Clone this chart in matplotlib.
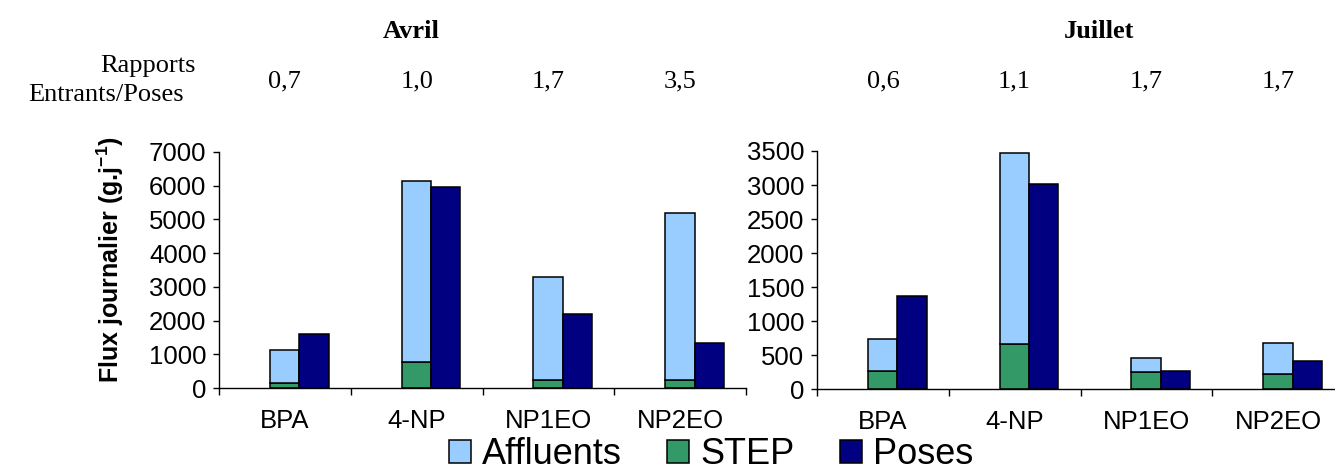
import matplotlib
matplotlib.use("Agg")
import matplotlib.pyplot as plt
from matplotlib.patches import Patch
import numpy as np

# ---- data -------------------------------------------------------------
categories = ["BPA", "4-NP", "NP1EO", "NP2EO"]

# Avril (g/j) : STEP, Affluents (stacked above STEP), Poses
avril_step = [150, 760, 230, 230]
avril_affluents = [970, 5370, 3070, 4950]
avril_poses = [1600, 5970, 2200, 1340]
avril_ratios = ["0,7", "1,0", "1,7", "3,5"]

# Juillet (g/j)
juillet_step = [265, 660, 260, 225]
juillet_affluents = [470, 2810, 205, 450]
juillet_poses = [1375, 3020, 270, 415]
juillet_ratios = ["0,6", "1,1", "1,7", "1,7"]

months = ["Avril", "Juillet"]
ylims = [7000, 3500]
ysteps = [1000, 500]

# ---- style ------------------------------------------------------------
c_affl = "#99CCFF"
c_step = "#339966"
c_poses = "#000080"
sans = "Liberation Sans"
serif = "Liberation Serif"

plt.rcParams["mathtext.fontset"] = "custom"
plt.rcParams["mathtext.rm"] = "Liberation Sans"
plt.rcParams["mathtext.bf"] = "Liberation Sans:bold"

W, H = 1335, 470
fig = plt.figure(figsize=(W / 100, H / 100), dpi=100)


def fx(px):
    return px / W


def fy(py):
    return 1 - py / H


# axes rectangles in pixel space (left, right, y of zero, y of top)
boxes = [(219, 746, 388, 152), (817, 1344, 389.3, 151)]
datasets = [
    (avril_step, avril_affluents, avril_poses, avril_ratios),
    (juillet_step, juillet_affluents, juillet_poses, juillet_ratios),
]

bar_w = 0.2235
off_a = 0.386
off_p = off_a + bar_w
edge_kw = dict(edgecolor="black", linewidth=1.1)

for (l, r, y0, y1), (step, affl, poses, ratios), ymax, ystep in zip(
    boxes, datasets, ylims, ysteps
):
    ax = fig.add_axes([fx(l), fy(y0), fx(r) - fx(l), fy(y1) - fy(y0)])
    x = np.arange(len(categories))
    ax.bar(x + off_a, step, width=bar_w, align="edge", color=c_step, **edge_kw)
    ax.bar(x + off_a, affl, width=bar_w, bottom=step, align="edge",
           color=c_affl, **edge_kw)
    ax.bar(x + off_p, poses, width=bar_w, align="edge", color=c_poses, **edge_kw)

    ax.set_xlim(0, len(categories))
    ax.set_ylim(0, ymax)
    yt = np.arange(0, ymax + 1, ystep)
    ax.set_yticks(yt)
    ax.set_yticklabels([str(v) for v in yt], fontsize=18.5, family=sans)
    ax.set_xticks(np.arange(len(categories) + 1))
    ax.set_xticklabels([])
    ax.set_xticks(x + 0.5, minor=True)
    ax.set_xticklabels(categories, minor=True, fontsize=18.5, family=sans)
    ax.tick_params(axis="x", which="major", direction="out", length=5,
                   width=1, color="black")
    ax.tick_params(axis="x", which="minor", length=0, pad=15)
    ax.tick_params(axis="y", direction="out", length=4, width=1, pad=5)
    for s in ("top", "right"):
        ax.spines[s].set_visible(False)
    for s in ("left", "bottom"):
        ax.spines[s].set_linewidth(1.0)
        ax.spines[s].set_color("black")

    # ratio row above each category
    for xi, t in zip(x, ratios):
        xpix = ax.transData.transform((xi + 0.5, 0))[0]
        fig.text(xpix / W, fy(87), t, ha="center", va="baseline",
                 fontsize=19, family=serif)

# month titles
fig.text(fx(411), fy(38), months[0], ha="center", va="baseline",
         fontsize=19, fontweight="bold", family=serif)
fig.text(fx(1099), fy(38), months[1], ha="center", va="baseline",
         fontsize=19, fontweight="bold", family=serif)

# ratio row heading
fig.text(fx(196), fy(72), "Rapports", ha="right", va="baseline",
         fontsize=19, family=serif)
fig.text(fx(184), fy(101), "Entrants/Poses", ha="right", va="baseline",
         fontsize=19, family=serif)

# y label
fig.text(fx(110), fy(260), r"Flux journalier (g.j$^{\mathbf{-1}}$)",
         rotation=90, ha="center", va="center", fontsize=18,
         fontweight="bold", family=sans)

# legend
handles = [
    Patch(facecolor=c_affl, edgecolor="black", linewidth=1.1, label="Affluents"),
    Patch(facecolor=c_step, edgecolor="black", linewidth=1.1, label="STEP"),
    Patch(facecolor=c_poses, edgecolor="black", linewidth=1.1, label="Poses"),
]
fig.legend(handles=handles, ncol=3, frameon=False, loc="center",
           bbox_to_anchor=(fx(711), fy(455)),
           prop={"family": sans, "size": 26},
           handlelength=0.62, handleheight=0.62, handletextpad=0.3,
           columnspacing=1.25, borderpad=0, borderaxespad=0)

fig.savefig("out.png", dpi=100)
